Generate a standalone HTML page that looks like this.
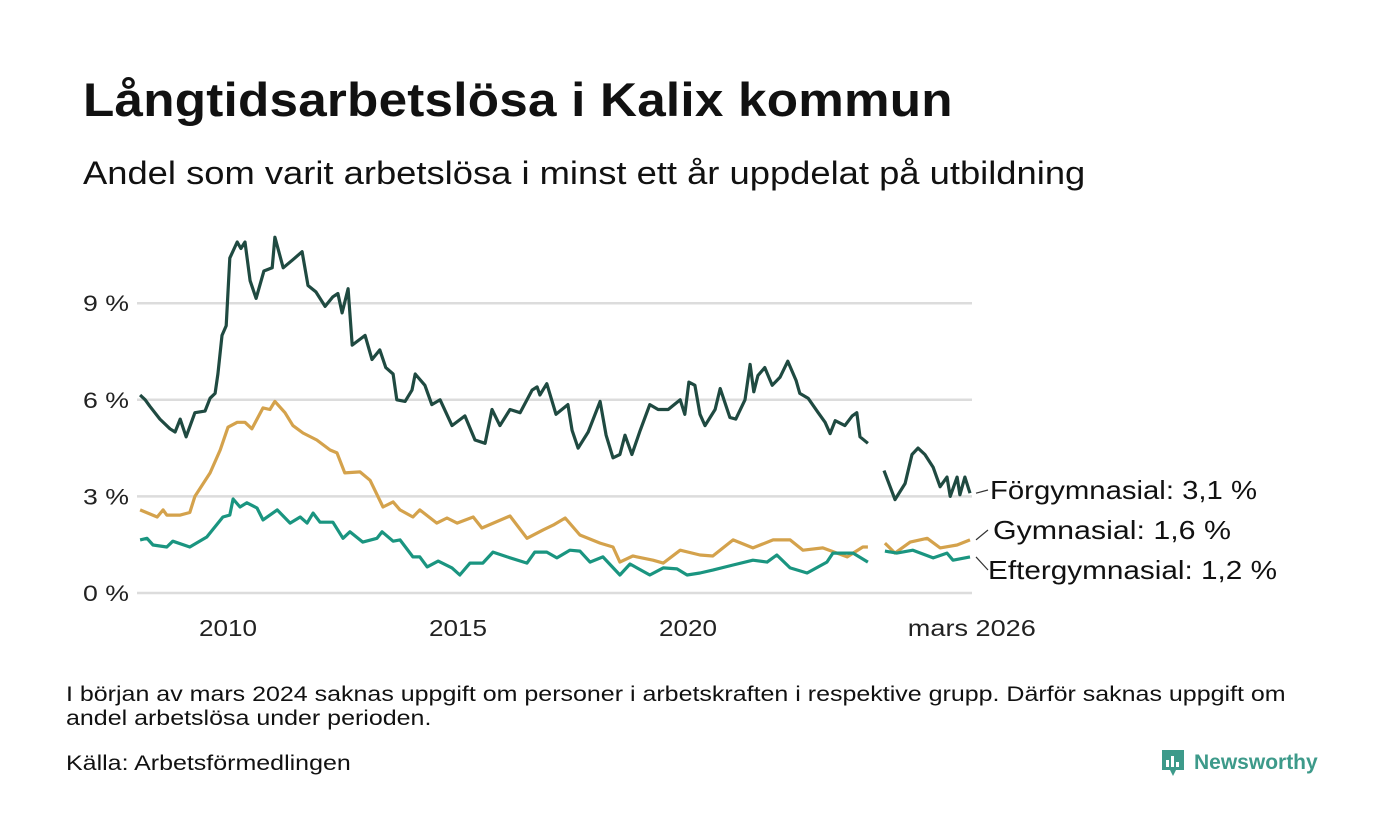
<!DOCTYPE html>
<html><head><meta charset="utf-8">
<style>
body{margin:0;background:#fff;font-family:"Liberation Sans","DejaVu Sans",sans-serif;color:#111;}
#wrap{position:relative;width:1400px;height:840px;overflow:hidden;}
h1{position:absolute;left:83px;top:72px;margin:0;font-size:47px;font-weight:bold;letter-spacing:0.2px;transform:scaleX(1.09);transform-origin:0 0;white-space:nowrap;}
.sub{position:absolute;left:83px;top:155px;font-size:32px;transform:scaleX(1.136);transform-origin:0 0;white-space:nowrap;}
.note{position:absolute;left:66px;top:683px;font-size:21px;line-height:24px;transform:scaleX(1.19);transform-origin:0 0;white-space:nowrap;}
.src{position:absolute;left:66px;top:752px;font-size:21px;transform:scaleX(1.19);transform-origin:0 0;white-space:nowrap;}
.logo{position:absolute;left:1160px;top:748px;display:flex;align-items:center;gap:8px;color:#3d9a8a;font-weight:bold;font-size:21px;}
svg text{font-family:"Liberation Sans","DejaVu Sans",sans-serif;}
</style></head><body>
<div id="wrap">
<h1>Långtidsarbetslösa i Kalix kommun</h1>
<div class="sub">Andel som varit arbetslösa i minst ett år uppdelat på utbildning</div>
<svg id="chart" width="1400" height="840" style="position:absolute;left:0;top:0"></svg>
<div class="note">I början av mars 2024 saknas uppgift om personer i arbetskraften i respektive grupp. Därför saknas uppgift om<br>andel arbetslösa under perioden.</div>
<div class="src">Källa: Arbetsförmedlingen</div>
<div class="logo">
<svg width="26" height="30" viewBox="0 0 26 30"><path d="M2 2h22v20h-8l-3 6-3-6H2z" fill="#3d9a8a"/><rect x="6" y="12" width="3" height="7" fill="#fff"/><rect x="11" y="8" width="3" height="11" fill="#fff"/><rect x="16" y="14" width="3" height="5" fill="#fff"/></svg>
<span>Newsworthy</span></div>
</div>
<script>
const yTicks=[0,3,6,9];
const yTickLabels=["0 %","3 %","6 %","9 %"];
const xTicks=[2010,2015,2020,2026.17];
const xTickLabels=["2010","2015","2020","mars 2026"];
const darkYears=[2008.09,2008.20,2008.30,2008.52,2008.74,2008.85,2008.96,2009.09,2009.28,2009.50,2009.61,2009.72,2009.78,2009.87,2009.96,2010.04,2010.20,2010.28,2010.37,2010.48,2010.61,2010.78,2010.96,2011.02,2011.20,2011.41,2011.61,2011.74,2011.91,2012.11,2012.28,2012.39,2012.48,2012.61,2012.70,2012.98,2013.13,2013.30,2013.43,2013.59,2013.67,2013.85,2014.00,2014.07,2014.28,2014.43,2014.61,2014.87,2015.15,2015.37,2015.59,2015.74,2015.91,2016.13,2016.35,2016.61,2016.72,2016.78,2016.93,2017.13,2017.39,2017.48,2017.61,2017.83,2018.09,2018.22,2018.37,2018.52,2018.63,2018.78,2018.96,2019.17,2019.35,2019.57,2019.83,2019.93,2020.02,2020.15,2020.26,2020.37,2020.59,2020.70,2020.91,2021.04,2021.24,2021.35,2021.43,2021.52,2021.67,2021.83,2022.00,2022.17,2022.35,2022.43,2022.61,2022.83,2022.98,2023.09,2023.20,2023.41,2023.57,2023.67,2023.74,2023.91,2024.0,2024.26,2024.50,2024.72,2024.87,2025.00,2025.15,2025.33,2025.48,2025.63,2025.70,2025.85,2025.91,2026.02,2026.13];
const darkValues=[6.15,6.0,5.8,5.4,5.1,5.0,5.4,4.85,5.6,5.65,6.05,6.2,6.8,8.0,8.3,10.4,10.9,10.7,10.9,9.7,9.15,10.0,10.1,11.05,10.1,10.35,10.6,9.55,9.35,8.9,9.2,9.3,8.7,9.45,7.7,8.0,7.25,7.55,7.0,6.8,6.0,5.95,6.3,6.8,6.45,5.85,6.0,5.2,5.5,4.75,4.65,5.7,5.2,5.7,5.6,6.3,6.4,6.15,6.5,5.55,5.85,5.05,4.5,5.0,5.95,4.9,4.2,4.3,4.9,4.3,5.05,5.85,5.7,5.7,6.0,5.55,6.55,6.45,5.55,5.2,5.7,6.35,5.45,5.4,6.0,7.1,6.25,6.75,7.0,6.45,6.7,7.2,6.6,6.2,6.05,5.6,5.3,4.95,5.35,5.2,5.5,5.6,4.85,4.65,null,3.8,2.9,3.4,4.3,4.5,4.3,3.9,3.3,3.6,3.0,3.6,3.05,3.6,3.1];
const goldYears=[2008.09,2008.46,2008.59,2008.67,2008.96,2009.17,2009.28,2009.61,2009.83,2010.00,2010.20,2010.37,2010.52,2010.76,2010.91,2011.02,2011.24,2011.41,2011.63,2011.93,2012.22,2012.37,2012.54,2012.87,2013.09,2013.37,2013.59,2013.74,2014.02,2014.17,2014.54,2014.76,2014.98,2015.33,2015.52,2016.13,2016.50,2016.85,2017.07,2017.33,2017.65,2018.09,2018.37,2018.52,2018.80,2019.24,2019.46,2019.83,2020.26,2020.54,2020.98,2021.41,2021.85,2022.22,2022.50,2022.93,2023.46,2023.80,2023.91,2024.0,2024.28,2024.50,2024.83,2025.20,2025.48,2025.85,2026.13];
const goldValues=[2.58,2.36,2.58,2.42,2.42,2.5,3.0,3.73,4.44,5.15,5.3,5.3,5.1,5.75,5.7,5.95,5.6,5.2,4.97,4.75,4.44,4.35,3.73,3.76,3.5,2.67,2.83,2.58,2.36,2.58,2.17,2.33,2.17,2.36,2.02,2.39,1.7,1.96,2.11,2.33,1.8,1.55,1.43,0.96,1.15,1.02,0.93,1.33,1.18,1.15,1.65,1.4,1.65,1.65,1.33,1.4,1.12,1.43,1.43,null,1.55,1.24,1.58,1.7,1.4,1.49,1.65];
const tealYears=[2008.09,2008.24,2008.37,2008.67,2008.80,2009.17,2009.54,2009.89,2010.04,2010.11,2010.26,2010.41,2010.63,2010.76,2011.07,2011.35,2011.57,2011.72,2011.85,2012.00,2012.28,2012.50,2012.65,2012.93,2013.24,2013.35,2013.59,2013.74,2014.02,2014.17,2014.33,2014.57,2014.87,2015.04,2015.26,2015.54,2015.76,2016.07,2016.50,2016.67,2016.93,2017.15,2017.43,2017.65,2017.87,2018.15,2018.52,2018.74,2019.17,2019.46,2019.76,2019.98,2020.26,2020.54,2020.98,2021.41,2021.72,2021.93,2022.22,2022.59,2023.02,2023.15,2023.59,2023.91,2024.0,2024.28,2024.54,2024.89,2025.33,2025.63,2025.76,2026.13];
const tealValues=[1.65,1.7,1.49,1.43,1.61,1.43,1.74,2.36,2.42,2.92,2.67,2.8,2.64,2.27,2.58,2.17,2.36,2.17,2.48,2.2,2.2,1.7,1.9,1.58,1.7,1.9,1.61,1.65,1.12,1.12,0.81,0.99,0.78,0.56,0.93,0.93,1.27,1.12,0.93,1.27,1.27,1.09,1.33,1.3,0.96,1.12,0.56,0.9,0.56,0.78,0.75,0.56,0.62,0.71,0.87,1.02,0.96,1.18,0.78,0.62,0.96,1.24,1.24,0.96,null,1.3,1.24,1.33,1.09,1.24,1.02,1.12];
const seriesNames=["Förgymnasial: 3,1 %","Gymnasial: 1,6 %","Eftergymnasial: 1,2 %"];

const NS="http://www.w3.org/2000/svg";
const svg=document.getElementById('chart');
const xS=y=>228+(y-2010)*46;
const yS=v=>593-v*32.2;
function mk(tag,attrs){const e=document.createElementNS(NS,tag);for(const k in attrs)e.setAttribute(k,attrs[k]);svg.appendChild(e);return e;}
yTicks.forEach((t,i)=>{
  const g=mk('line',{x1:137,x2:972,y1:yS(t),y2:yS(t),stroke:'#dcdcdc','stroke-width':2.5});
  
  
  const tx=mk('text',{x:129,y:yS(t)+8,'text-anchor':'end','font-size':22,fill:'#222',textLength:46,lengthAdjust:'spacingAndGlyphs'});
  tx.textContent=yTickLabels[i];
  
  
});
xTicks.forEach((t,i)=>{
  const tx=mk('text',{x:xS(t),y:636,'text-anchor':'middle','font-size':23,fill:'#222',textLength:(i===3?128:58),lengthAdjust:'spacingAndGlyphs'});
  tx.textContent=xTickLabels[i];
  
  
});
function path(years,vals){let d='',pen=false;years.forEach((y,i)=>{const v=vals[i];if(v===null){pen=false;return;}d+=(pen?'L':'M')+xS(y).toFixed(1)+','+yS(v).toFixed(1);pen=true;});return d;}
const series=[[goldYears,goldValues,'#d4a24c','line-gymnasial'],[tealYears,tealValues,'#1a9580','line-eftergymnasial'],[darkYears,darkValues,'#1f4a41','line-forgymnasial']];
series.forEach(s=>{
  const p=mk('path',{d:path(s[0],s[1]),fill:'none',stroke:s[2],'stroke-width':3.2,'stroke-linejoin':'round'});
  
  
});
const labelY=[499,539,579];
const labelW=[267,238,289];
const lastVals=[darkValues[darkValues.length-1],goldValues[goldValues.length-1],tealValues[tealValues.length-1]];
labelY.forEach((ly,i)=>{
  const l=mk('line',{x1:976,y1:yS(lastVals[i]),x2:988,y2:ly-9,stroke:'#333','stroke-width':1.2});
  
  
  const t=mk('text',{x:[990,993,988][i],y:ly,'font-size':26,fill:'#111',textLength:labelW[i],lengthAdjust:'spacingAndGlyphs'});
  t.textContent=seriesNames[i];
  
  
});
</script>
</body></html>
